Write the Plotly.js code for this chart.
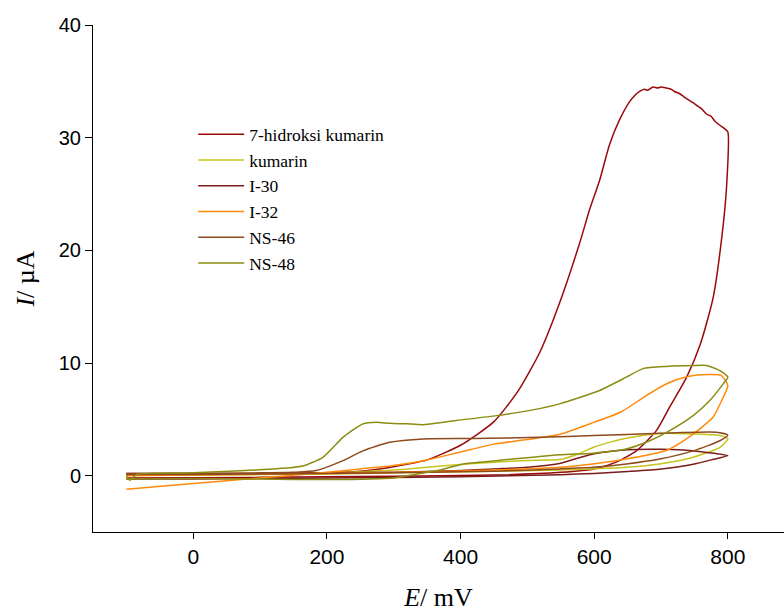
<!DOCTYPE html>
<html>
<head>
<meta charset="utf-8">
<script src="https://cdn.plot.ly/plotly-3.0.1.min.js"></script>
<style>html,body{margin:0;padding:0;background:#fff;overflow:hidden}</style>
</head>
<body>
<div id="chart" style="width:784px;height:612px"></div>
<script>
// Series names and colours
const seriesNames = ["7-hidroksi kumarin", "kumarin", "I-30", "I-32", "NS-46", "NS-48"];
const seriesColors = ["#990a0a", "#c4c41e", "#7a1c1c", "#ff8a0a", "#8e4a1e", "#8c8c12"];

// 7-hidroksi kumarin (E / mV, I / µA)
const hk_E = [-100, 0, 100, 200, 250, 300, 350, 400, 450, 486, 519, 548, 578, 593, 608, 623, 638, 653, 660, 668, 675, 680, 688, 695, 700, 708, 715, 720, 728, 735, 740, 748, 755, 760, 768, 775, 780, 788, 795, 800, 798, 791, 778, 759, 738, 713, 693, 663, 633, 600, 550, 450, 300, 100, -100];
const hk_I = [0.1, 0.1, 0.15, 0.25, 0.4, 0.8, 1.4, 2.7, 4.8, 7.5, 11.0, 15.3, 20.6, 23.6, 26.2, 29.4, 31.6, 33.2, 33.7, 34.1, 34.3, 34.2, 34.5, 34.4, 34.5, 34.4, 34.3, 34.1, 33.9, 33.6, 33.4, 33.1, 32.8, 32.6, 32.1, 31.9, 31.5, 31.1, 30.8, 30.5, 25.6, 21.2, 15.8, 11.7, 8.7, 6.1, 4.0, 2.2, 1.2, 0.6, 0.3, 0.05, -0.05, -0.15, -0.2];

// kumarin
const ku_E = [-100, 0, 100, 200, 300, 350, 400, 450, 500, 550, 575, 600, 625, 650, 700, 750, 790, 800, 788, 748, 698, 648, 598, 548, 450, 350, 200, 0, -100];
const ku_I = [0.1, 0.1, 0.15, 0.25, 0.5, 0.75, 1.0, 1.2, 1.35, 1.45, 1.9, 2.55, 3.0, 3.35, 3.75, 3.7, 3.55, 3.26, 2.52, 1.63, 1.04, 0.74, 0.6, 0.5, 0.4, 0.3, 0.15, 0.05, 0.05];

// I-30
const i30_E = [-100, 0, 100, 200, 300, 400, 450, 500, 550, 575, 600, 650, 700, 750, 780, 800, 775, 750, 700, 650, 600, 550, 400, 200, 0, -100];
const i30_I = [0.2, 0.2, 0.2, 0.25, 0.3, 0.45, 0.6, 0.75, 1.1, 1.55, 1.95, 2.3, 2.34, 2.2, 1.98, 1.78, 1.4, 1.04, 0.6, 0.38, 0.2, 0.09, -0.1, -0.2, -0.3, -0.3];

// I-32
const i32_E = [-100, 0, 100, 200, 250, 300, 350, 400, 450, 500, 550, 600, 640, 675, 710, 740, 770, 790, 800, 793, 778, 758, 738, 713, 698, 648, 598, 548, 450, 350, 200, 0, -100];
const i32_I = [-1.2, -0.7, -0.2, 0.3, 0.6, 0.9, 1.4, 2.1, 2.8, 3.2, 3.7, 4.75, 5.65, 7.0, 8.2, 8.8, 8.98, 8.9, 8.0, 6.96, 5.2, 4.15, 3.26, 2.37, 2.07, 1.48, 1.04, 0.74, 0.5, 0.35, 0.2, 0.05, 0.0];

// NS-46
const ns46_E = [-100, 0, 100, 150, 184, 224, 254, 294, 344, 419, 519, 600, 698, 783, 800, 788, 748, 698, 648, 598, 548, 450, 350, 200, 0, -100];
const ns46_I = [0.2, 0.2, 0.25, 0.3, 0.45, 1.33, 2.2, 2.96, 3.26, 3.3, 3.4, 3.56, 3.76, 3.85, 3.6, 3.1, 2.2, 1.48, 1.04, 0.74, 0.6, 0.4, 0.3, 0.2, 0.1, 0.1];

// NS-48
const ns48_E = [-100, -95, -85, 0, 94, 119, 144, 164, 194, 224, 254, 274, 294, 319, 344, 369, 394, 454, 508, 548, 608, 648, 673, 708, 748, 768, 788, 800, 793, 773, 748, 713, 683, 648, 598, 548, 453, 404, 369, 340, 300, 200, 100, 0, -100];
const ns48_I = [0.0, -0.4, 0.1, 0.25, 0.5, 0.6, 0.7, 0.85, 1.63, 3.4, 4.6, 4.74, 4.65, 4.6, 4.53, 4.7, 4.9, 5.33, 5.84, 6.37, 7.56, 8.74, 9.5, 9.7, 9.78, 9.78, 9.33, 8.74, 8.15, 6.67, 5.33, 4.0, 3.1, 2.37, 2.0, 1.85, 1.33, 1.04, 0.5, 0.2, -0.2, -0.35, -0.3, -0.25, -0.3];

// Axis ticks
const xTicks = [0, 200, 400, 600, 800];
const yTicks = [0, 10, 20, 30, 40];

const xs = [hk_E, ku_E, i30_E, i32_E, ns46_E, ns48_E];
const ys = [hk_I, ku_I, i30_I, i32_I, ns46_I, ns48_I];

const traces = seriesNames.map((n, k) => ({
  x: xs[k], y: ys[k], name: n, type: "scatter", mode: "lines",
  line: {color: seriesColors[k], width: 1.5, shape: "spline", smoothing: 0.6}
}));

const layout = {
  width: 784, height: 612,
  margin: {l: 93, r: 0, t: 25, b: 80, pad: 0},
  paper_bgcolor: "#fff", plot_bgcolor: "#fff",
  showlegend: true,
  legend: {
    x: 0.145, y: 0.82, xanchor: "left", yanchor: "top",
    bgcolor: "rgba(0,0,0,0)", borderwidth: 0,
    font: {family: "Liberation Serif, Times New Roman, serif", size: 17.5, color: "#000"},
    tracegroupgap: 0, itemwidth: 46
  },
  xaxis: {
    range: [-150, 884], showgrid: false, zeroline: false,
    showline: true, linecolor: "#000", linewidth: 1, mirror: false,
    ticks: "outside", ticklen: 6, tickwidth: 1, tickcolor: "#000",
    tickvals: xTicks, ticktext: xTicks.map(String),
    tickfont: {family: "Liberation Sans, Arial, sans-serif", size: 21, color: "#000"},
    title: {text: "<i>E</i>/ mV", standoff: 24, font: {family: "Liberation Serif, Times New Roman, serif", size: 26, color: "#000"}}
  },
  yaxis: {
    range: [-5, 40], showgrid: false, zeroline: false,
    showline: true, linecolor: "#000", linewidth: 1, mirror: false,
    ticks: "outside", ticklen: 7, tickwidth: 1, tickcolor: "#000",
    tickvals: yTicks, ticktext: yTicks.map(String),
    tickfont: {family: "Liberation Sans, Arial, sans-serif", size: 20, color: "#000"},
    title: {text: "<i>I</i>/ µA", standoff: 16, font: {family: "Liberation Serif, Times New Roman, serif", size: 26, color: "#000"}}
  }
};

Plotly.newPlot("chart", traces, layout, {displayModeBar: false, staticPlot: true});
</script>
</body>
</html>
